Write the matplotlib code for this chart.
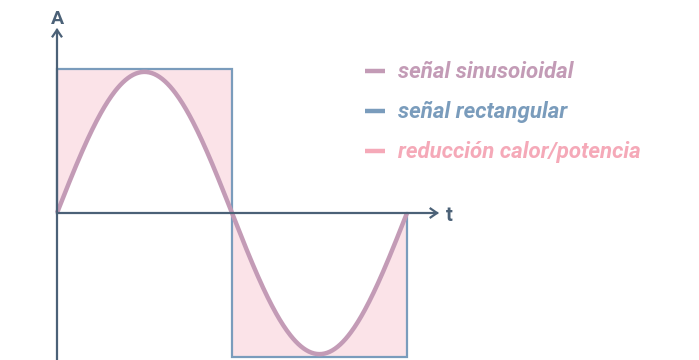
import numpy as np
import matplotlib
matplotlib.use('Agg')
import matplotlib.pyplot as plt

# Data
t_sine = np.linspace(0, 2*np.pi, 400)
sine_amp = 0.98
rect_t = [0, 0, np.pi, np.pi, 2*np.pi, 2*np.pi]
rect_a = [0, 1, 1, -1, -1, 0]
legend_labels = ['señal sinusoioidal', 'señal rectangular', 'reducción calor/potencia']

sine_color = '#c39bb6'
rect_color = '#7a9cbc'
fill_color = '#fbe3e8'
red_color = '#f5a9b8'
axis_color = '#4b6177'

plt.rcParams['font.family'] = ['Roboto', 'DejaVu Sans']

fig = plt.figure(figsize=(6.99, 3.6), dpi=100)
ax = fig.add_axes([0, 0, 1, 1])
ax.axis('off')

# pixel mapping: x=0 -> 57px, x=2pi -> 407px ; y=0 -> 213px, y=1 -> 69px
sx = 350 / (2*np.pi)
sy = 144.0
ax.set_xlim(-57/sx, (699 - 57)/sx)
ax.set_ylim(-(360 - 213)/sy, 213/sy)

sine = sine_amp*np.sin(t_sine)
square = np.where(t_sine <= np.pi, 1.0, -1.0)
ax.fill_between(t_sine, sine, square, color=fill_color, lw=0, zorder=1)
ax.plot(rect_t, rect_a, color=rect_color, lw=1.6, zorder=2, solid_joinstyle='miter')
ax.plot(t_sine, sine, color=sine_color, lw=3.2, zorder=3, solid_capstyle='butt')

# axes with open arrowheads
y_top = (213 - 30)/sy
x_right = (437 - 57)/sx
ax.plot([0, 0], [-1.1, y_top], color=axis_color, lw=1.6, zorder=4)
ax.plot([0, x_right], [0, 0], color=axis_color, lw=1.6, zorder=4)
ah = 8
ax.plot([-ah/2/sx*1.1, 0, ah/2/sx*1.1], [y_top - ah/sy*0.8, y_top, y_top - ah/sy*0.8],
        color=axis_color, lw=1.6, zorder=4, solid_joinstyle='miter')
ax.plot([x_right - ah/sx*0.8, x_right, x_right - ah/sx*0.8], [ah/2/sy*1.1, 0, -ah/2/sy*1.1],
        color=axis_color, lw=1.6, zorder=4, solid_joinstyle='miter')

ax.text(0, (213 - 24)/sy, 'A', color=axis_color, fontsize=14, fontweight='bold',
        ha='center', va='baseline')
ax.text((449 - 57)/sx, (213 - 221)/sy, 't', color=axis_color, fontsize=14.5, fontweight='bold',
        ha='center', va='baseline')

# legend
colors = [sine_color, rect_color, red_color]
rows_px = [71, 111, 151]
for lab, c, ypx in zip(legend_labels, colors, rows_px):
    yy = (213 - ypx)/sy
    ax.plot([(365 - 57)/sx, (385 - 57)/sx], [yy, yy], color=c, lw=3.2, solid_capstyle='butt')
    ax.text((398 - 57)/sx, (213 - ypx - 7)/sy, lab, color=c, fontsize=16, fontweight='bold',
            fontstyle='italic', ha='left', va='baseline')

plt.savefig('out.png', dpi=100)
